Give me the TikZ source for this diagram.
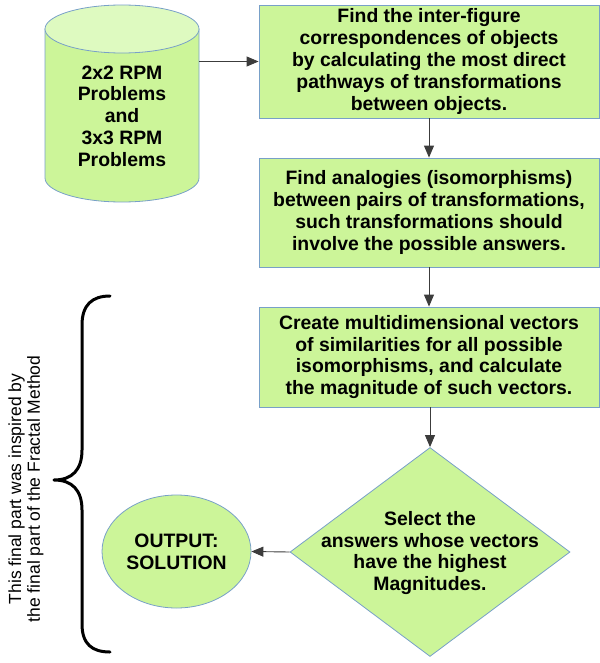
\documentclass[tikz,border=0pt]{standalone}
\usepackage{fontspec}
\setmainfont{Liberation Sans}
\usetikzlibrary{shapes.geometric,arrows.meta}
\definecolor{boxfill}{RGB}{204,245,153}
\definecolor{topfill}{RGB}{222,250,192}
\definecolor{edgeblue}{RGB}{120,160,200}
\definecolor{linegray}{RGB}{60,60,60}
\tikzset{
  flowtext/.style={align=center,font=\bfseries\fontsize{19.4}{21.8}\selectfont,text=black,inner sep=0pt},
  procbox/.style={draw=edgeblue,fill=boxfill,line width=0.8pt,minimum width=340pt,inner sep=0pt},
  flowarrow/.style={draw=linegray,line width=0.9pt,-{Triangle[length=12pt,width=10pt]}},
  bracepath/.style={draw=black,line width=3pt,line cap=round,line join=round}
}
\begin{document}
\begin{tikzpicture}[x=1pt,y=-1pt]
\useasboundingbox (0,0) rectangle (599,663);

% database cylinder
\fill[boxfill,draw=edgeblue,line width=0.8pt]
  (45,29) -- (45,178) arc[start angle=180,end angle=0,x radius=77,y radius=24] -- (199,29) -- cycle;
\draw[fill=topfill,draw=edgeblue,line width=0.8pt] (122,29) ellipse[x radius=77,y radius=24];
\node[flowtext] (db) at (122,116) {2x2 RPM\\Problems\\and\\3x3 RPM\\Problems};
\coordinate (dbout) at (199,61.5);

% process steps
\node[procbox,minimum height=113pt] (s1) at (429,61.5) {};
\node[flowtext] (t1) at (s1) {Find the inter-figure\\correspondences of objects\\by calculating the most direct\\pathways of transformations\\between objects.};

\node[procbox,minimum height=109pt] (s2) at (429,212.5) {};
\node[flowtext] (t2) at (s2) {Find analogies (isomorphisms)\\between pairs of transformations,\\such transformations should\\involve the possible answers.};

\node[procbox,minimum height=100pt] (s3) at (429,357) {};
\node[flowtext] (t3) at (s3) {Create multidimensional vectors\\of similarities for all possible\\isomorphisms, and calculate\\the magnitude of such vectors.};

% decision
\node[diamond,draw=edgeblue,fill=boxfill,line width=0.8pt,minimum width=280pt,minimum height=209pt,inner sep=0pt] (dec) at (430,552) {};
\node[flowtext] (t4) at (430,553) {Select the\\answers whose vectors\\have the highest\\Magnitudes.};

% output
\node[ellipse,draw=edgeblue,fill=boxfill,line width=0.8pt,minimum width=149pt,minimum height=113pt,inner sep=0pt] (outp) at (176.5,551.5) {};
\node[flowtext] (t5) at (outp) {OUTPUT:\\SOLUTION};

% connectors
\draw[flowarrow] (dbout) -- (s1.west);
\draw[flowarrow] (s1.south) -- (s2.north);
\draw[flowarrow] (s2.south) -- (s3.north);
\draw[flowarrow] (s3.south -| dec.north) -- (dec.north);
\draw[flowarrow] (dec.west) -- (outp.east);

% brace and its note
\draw[bracepath] (110,296) .. controls (92,296) and (82,305) .. (82,325) -- (82,450)
  .. controls (82,470) and (72,480) .. (54,480)
  .. controls (72,480) and (82,490) .. (82,510) -- (82,624)
  .. controls (82,644) and (92,652) .. (110,652);
\node[rotate=90,align=center,font=\fontsize{17.5}{18.6}\selectfont,inner sep=0pt] (note) at (26,489)
  {This final part was inspired by\\the final part of the Fractal Method};
\end{tikzpicture}
\end{document}
